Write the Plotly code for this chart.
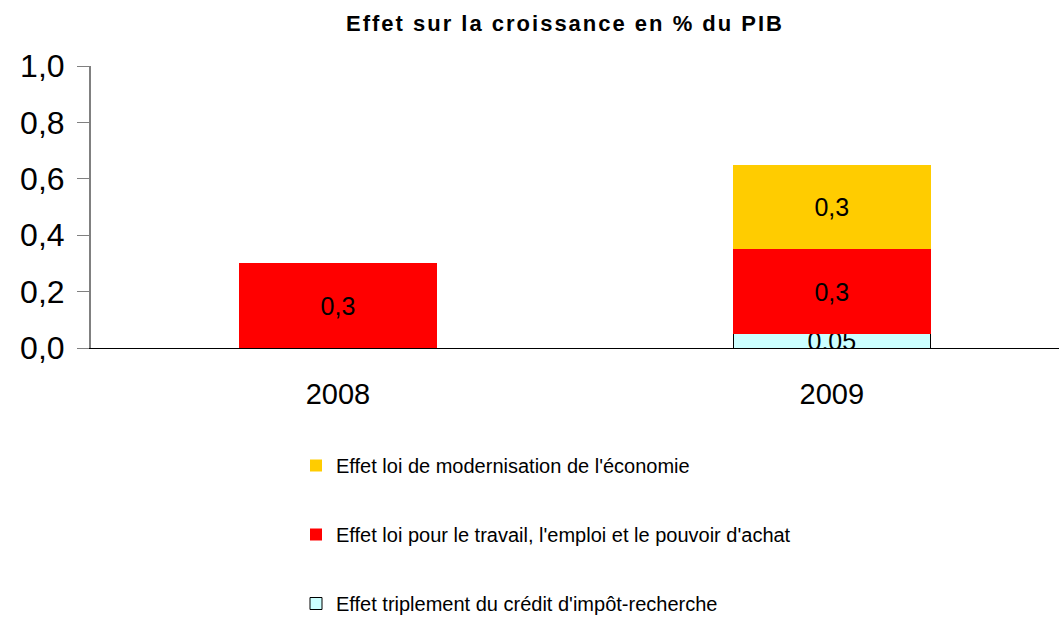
import plotly.graph_objects as go

categories = ["2008", "2009"]
credit_impot = [0, 0.05]
loi_travail = [0.3, 0.3]
loi_modernisation = [0, 0.3]
labels_credit = ["", "0,05"]
labels_travail = ["0,3", "0,3"]
labels_modern = ["", "0,3"]
y_ticks = [0, 0.2, 0.4, 0.6, 0.8, 1.0]
y_ticktext = ["0,0", "0,2", "0,4", "0,6", "0,8", "1,0"]

FONT = "Liberation Sans, Arial, sans-serif"
LBL = dict(size=25, color="black", family=FONT)

fig = go.Figure()
fig.add_bar(x=categories, y=credit_impot, name="Effet triplement du crédit d'impôt-recherche",
            marker=dict(color="#CCFFFF", line=dict(color="#000000", width=1)),
            text=labels_credit, textposition="inside", insidetextanchor="middle", textangle=0,
            constraintext="none", textfont=LBL, legendgroup="c", legendrank=3)
fig.add_bar(x=categories, y=loi_travail, name="Effet loi pour le travail, l'emploi et le pouvoir d'achat",
            marker=dict(color="#FF0000", line=dict(width=0)),
            text=labels_travail, textposition="inside", insidetextanchor="middle", textangle=0,
            constraintext="none", textfont=LBL, legendgroup="b", legendrank=2)
fig.add_bar(x=categories, y=loi_modernisation, name="Effet loi de modernisation de l'économie",
            marker=dict(color="#FFCC00", line=dict(width=0)),
            text=labels_modern, textposition="inside", insidetextanchor="middle", textangle=0,
            constraintext="none", textfont=LBL, legendgroup="a", legendrank=1)

fig.update_layout(
    barmode="stack",
    bargap=0.6,
    width=1059, height=620,
    margin=dict(l=91, r=0, t=66, b=272, autoexpand=False),
    paper_bgcolor="white", plot_bgcolor="white",
    font=dict(family=FONT, color="black"),
    title=dict(text="<b><span style='letter-spacing:2px'>Effet sur la croissance en % du PIB</span></b>",
               x=565/1059, xanchor="center",
               y=1 - 23/620, yanchor="middle", yref="container", font=dict(size=22, color="black")),
    legend=dict(xref="container", yref="container", x=296/1059, y=1 - 446/620,
                xanchor="left", yanchor="top", font=dict(size=20, color="black"),
                tracegroupgap=40, traceorder="grouped", bgcolor="rgba(0,0,0,0)"),
    xaxis=dict(range=[-0.5, 1.46], showline=True, linecolor="black", linewidth=1,
               ticks="", showgrid=False, tickfont=dict(size=29), ticklabelstandoff=20),
    yaxis=dict(range=[0, 1.0], tickvals=y_ticks, ticktext=y_ticktext, showline=True,
               linecolor="#808080", linewidth=2, ticks="outside", ticklen=12, tickcolor="#808080",
               showgrid=False, zeroline=False, tickfont=dict(size=32), ticklabelstandoff=6),
)
fig.write_html("out.html", config={"displayModeBar": False},
               post_script="document.body.style.margin='0';document.body.style.overflow='hidden';")
